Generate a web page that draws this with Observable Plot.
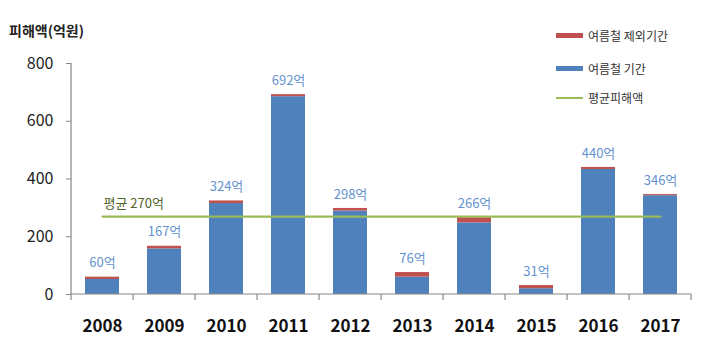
<!DOCTYPE html>
<html>
<head>
<meta charset="utf-8">
<script src="https://cdn.jsdelivr.net/npm/d3@7"></script>
<script src="https://cdn.jsdelivr.net/npm/@observablehq/plot@0.6"></script>
<style>
  body { margin: 0; background: #fff; font-family: "Noto Sans CJK KR", "Noto Sans", sans-serif; }
  #wrap { position: relative; width: 716px; height: 353px; }
  #title { position: absolute; left: 9px; top: 20px; font-size: 14px; font-weight: bold; color: #222; }
  #legend { position: absolute; left: 556px; top: 27px; font-size: 12px; color: #333; }
  .li { position: absolute; left: 0; display: flex; align-items: center; white-space: nowrap; }
  .sw { width: 27px; height: 5px; margin-right: 5px; }
  .ln { width: 27px; height: 2px; margin-right: 5px; }
</style>
</head>
<body>
<div id="wrap">
  <div id="chart"></div>
  <div id="title">피해액(억원)</div>
  <div id="legend"></div>
</div>
<script>
const years = ["2008","2009","2010","2011","2012","2013","2014","2015","2016","2017"];
const totals = [60, 167, 324, 692, 298, 76, 266, 31, 440, 346];
const summer = [52, 158, 315, 685, 289, 60, 248, 20, 433, 342];
const offSeason = [8, 9, 9, 7, 9, 16, 18, 11, 7, 4];
const average = 270;
const yTicks = [0, 200, 400, 600, 800];
const seriesNames = ["여름철 제외기간", "여름철 기간", "평균피해액"];
const colors = ["#c0504d", "#4f81bd", "#9bbb59"];

const stacked = [];
years.forEach((y, i) => {
  stacked.push({year: y, series: seriesNames[1], value: summer[i]});
  stacked.push({year: y, series: seriesNames[0], value: offSeason[i]});
});
const labels = years.map((y, i) => ({year: y, total: totals[i], text: totals[i] + "억"}));
const avgLine = [{year: years[0], v: average}, {year: years[years.length - 1], v: average}];

const chart = Plot.plot({
  width: 716,
  height: 353,
  marginLeft: 71,
  marginRight: 24,
  marginTop: 63,
  marginBottom: 59,
  style: {fontFamily: '"Noto Sans CJK KR", sans-serif', background: "transparent"},
  x: {domain: years, paddingInner: 0.45, paddingOuter: 0.225, label: null},
  y: {domain: [0, 800], label: null},
  color: {domain: seriesNames.slice(0, 2), range: colors.slice(0, 2)},
  marks: [
    Plot.axisY({ticks: yTicks, tickSize: 5, tickPadding: 13, fontSize: 16, color: "#222", stroke: "#888"}),
    Plot.axisX({tickSize: 0, tickPadding: 25, fontSize: 17, fontWeight: "bold", color: "#111"}),
    Plot.barY(stacked, Plot.stackY({x: "year", y: "value", fill: "series", order: seriesNames.slice(0, 2).reverse()})),
    Plot.line(avgLine, {x: "year", y: "v", stroke: colors[2], strokeWidth: 2.2}),
    Plot.text([{year: years[0], v: average, t: "평균 270억"}], {x: "year", y: "v", text: "t", textAnchor: "start", dy: -13, dx: 1, fill: "#4f6228", fontSize: 13}),
    Plot.text(labels, {x: "year", y: "total", text: "text", dy: -14, fill: "#6492cf", fontSize: 13})
  ]
});
document.getElementById("chart").appendChild(chart);

// axis lines and category boundary ticks, positioned from the Plot scales
const xs = chart.scale("x"), ysc = chart.scale("y");
const svg = d3.select(chart);
const y0 = ysc.apply(0), yTop = ysc.apply(800);
const step = xs.step;
const first = xs.apply(years[0]) - xs.paddingOuter * step;
const bounds = d3.range(years.length + 1).map(i => first + i * step);
const g = svg.append("g").attr("stroke", "#888").attr("stroke-width", 1.2);
g.append("line").attr("x1", bounds[0]).attr("x2", bounds[0]).attr("y1", yTop).attr("y2", y0);
g.append("line").attr("x1", bounds[0]).attr("x2", bounds[bounds.length - 1]).attr("y1", y0).attr("y2", y0);
bounds.forEach(b => g.append("line").attr("x1", b).attr("x2", b).attr("y1", y0).attr("y2", y0 + 6));

// legend
const leg = d3.select("#legend");
const tops = [0, 33, 62];
seriesNames.forEach((n, i) => {
  const item = leg.append("div").attr("class", "li").style("top", tops[i] + "px");
  item.append("div").attr("class", i < 2 ? "sw" : "ln").style("background", colors[i]);
  item.append("span").text(n);
});
</script>
</body>
</html>
